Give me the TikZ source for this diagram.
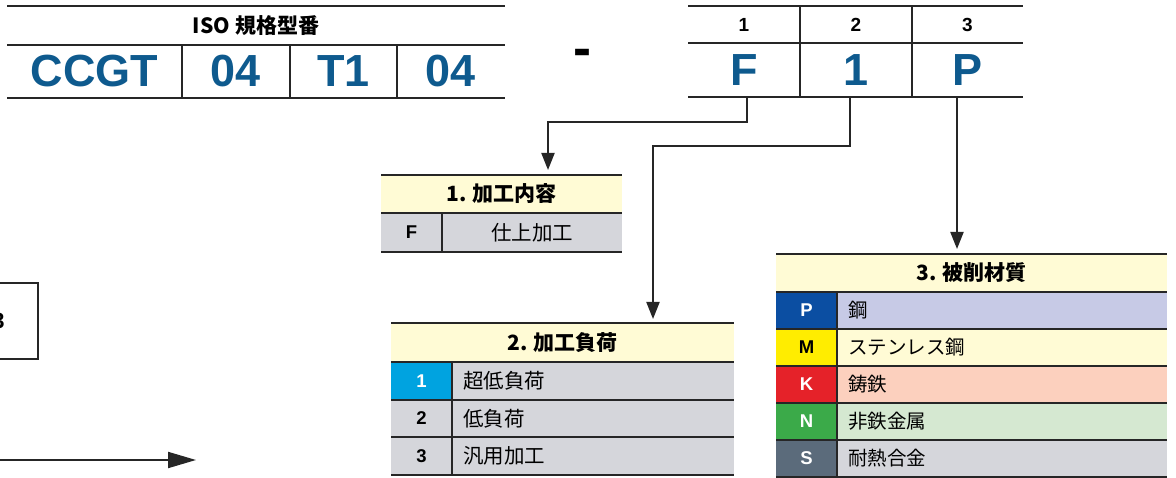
\documentclass[tikz,border=0pt]{standalone}
\usepackage{fontspec}
\setmainfont{Liberation Sans}
\newfontfamily\jp{Noto Sans CJK JP}
\usetikzlibrary{arrows.meta}
\definecolor{isoblue}{HTML}{0E5A8E}
\definecolor{lgray}{HTML}{262626}
\definecolor{hdryel}{HTML}{FFFBD5}
\definecolor{cellgray}{HTML}{D5D6DB}
\definecolor{cyanc}{HTML}{00A3E0}
\definecolor{pblue}{HTML}{0B4EA2}
\definecolor{plav}{HTML}{C7CAE6}
\definecolor{myel}{HTML}{FFED00}
\definecolor{kred}{HTML}{E52229}
\definecolor{kbg}{HTML}{FCD0BE}
\definecolor{ngreen}{HTML}{3BAA49}
\definecolor{nbg}{HTML}{D5E8D1}
\definecolor{sslate}{HTML}{5B6B7B}
\begin{document}
\begin{tikzpicture}[x=1pt,y=-1pt,
  cell/.style={anchor=north west, inner sep=0pt, outer sep=0pt},
  tline/.style={line width=2pt, draw=lgray},
  gline/.style={line width=1.5pt, draw=lgray},
  conn/.style={line width=2pt, draw=lgray, -{Triangle[length=17pt,width=13pt]}},
  big/.style={font=\fontsize{45}{45}\selectfont\bfseries, text=isoblue},
  hnum/.style={font=\fontsize{19}{19}\selectfont\bfseries},
  thead/.style={cell, fill=hdryel, font={\jp\bfseries\fontsize{21}{21}\selectfont}},
  code/.style={cell, minimum width=61pt, font=\fontsize{18.5}{18.5}\selectfont\bfseries},
  desc/.style={cell, font={\jp\fontsize{20.5}{20.5}\selectfont}, align=left, inner xsep=11pt},
  descb/.style={desc, font={\jp\fontsize{19.5}{19.5}\selectfont}},
]
\useasboundingbox (0,0) rectangle (1176,478);

% ---- ISO table
\node[cell, minimum width=498pt, minimum height=39pt, font={\jp\bfseries\fontsize{21}{21}\selectfont}] (isoh) at (7,6) {ISO 規格型番};
\node[cell, big, minimum width=175pt, minimum height=53pt] (c1) at (7,45) {CCGT};
\node[cell, big, minimum width=108pt, minimum height=53pt] (c2) at (182,45) {04};
\node[cell, big, minimum width=107pt, minimum height=53pt] (c3) at (290,45) {T1};
\node[cell, big, minimum width=108pt, minimum height=53pt] (c4) at (397,45) {04};
\draw[tline] (isoh.north west) -- (isoh.north east);
\draw[tline] (isoh.south west) -- (isoh.south east);
\draw[tline] (c1.south west) -- (c4.south east);
\draw[tline] (c1.north east) -- (c1.south east);
\draw[tline] (c2.north east) -- (c2.south east);
\draw[tline] (c3.north east) -- (c3.south east);

% ---- dash
\node[anchor=base, inner sep=0pt, font=\fontsize{54}{54}\selectfont\bfseries] (dash) at (582,67) {-};

% ---- code table
\node[cell, hnum, minimum width=112pt, minimum height=37pt] (h1) at (688,6) {1};
\node[cell, hnum, minimum width=112pt, minimum height=37pt] (h2) at (800,6) {2};
\node[cell, hnum, minimum width=111pt, minimum height=37pt] (h3) at (912,6) {3};
\node[cell, big, minimum width=112pt, minimum height=54pt] (v1) at (688,43) {F};
\node[cell, big, minimum width=112pt, minimum height=54pt] (v2) at (800,43) {1};
\node[cell, big, minimum width=111pt, minimum height=54pt] (v3) at (912,43) {P};
\draw[tline] (h1.north west) -- (h3.north east);
\draw[tline] (h1.south west) -- (h3.south east);
\draw[tline] (v1.south west) -- (v3.south east);
\draw[tline] (h1.north east) -- (v1.south east);
\draw[tline] (h2.north east) -- (v2.south east);

% ---- table 1
\node[thead, minimum width=241pt, minimum height=38pt] (t1h) at (381,175) {1. 加工内容};
\node[code, fill=cellgray, minimum height=39pt] (t1c) at (381,213) {F};
\node[cell, fill=cellgray, minimum width=180pt, minimum height=39pt, font={\jp\fontsize{20.5}{20.5}\selectfont}] (t1d) at (442,213) {仕上加工};
\draw[gline] (t1h.north west) -- (t1h.north east);
\draw[gline] (t1h.south west) -- (t1h.south east);
\draw[gline] (t1c.south west) -- (t1d.south east);
\draw[gline] (t1c.north east) -- (t1c.south east);

% ---- table 2
\node[thead, minimum width=343pt, minimum height=39pt] (t2h) at (391,323) {2. 加工負荷};
\node[code, fill=cyanc, text=white, minimum height=38pt] (t2c1) at (391,362) {1};
\node[desc, fill=cellgray, text width=260pt, minimum height=38pt] (t2d1) at (452,362) {超低負荷};
\node[code, fill=cellgray, minimum height=37pt] (t2c2) at (391,400) {2};
\node[desc, fill=cellgray, text width=260pt, minimum height=37pt] (t2d2) at (452,400) {低負荷};
\node[code, fill=cellgray, minimum height=38pt] (t2c3) at (391,437) {3};
\node[desc, fill=cellgray, text width=260pt, minimum height=38pt] (t2d3) at (452,437) {汎用加工};
\draw[gline] (t2h.north west) -- (t2h.north east);
\draw[gline] (t2h.south west) -- (t2h.south east);
\draw[gline] (t2c1.south west) -- (t2d1.south east);
\draw[gline] (t2c2.south west) -- (t2d2.south east);
\draw[gline] (t2c3.south west) -- (t2d3.south east);
\draw[gline] (t2c1.north east) -- (t2c3.south east);

% ---- table 3
\node[thead, minimum width=391pt, minimum height=38pt] (t3h) at (776,254) {3. 被削材質};
\node[code, fill=pblue, text=white, minimum height=37pt] (t3c1) at (776,292) {P};
\node[descb, fill=plav, text width=308pt, minimum height=37pt] (t3d1) at (837,292) {鋼};
\node[code, fill=myel, minimum height=37pt] (t3c2) at (776,329) {M};
\node[descb, fill=hdryel, text width=308pt, minimum height=37pt] (t3d2) at (837,329) {ステンレス鋼};
\node[code, fill=kred, text=white, minimum height=37pt] (t3c3) at (776,366) {K};
\node[descb, fill=kbg, text width=308pt, minimum height=37pt] (t3d3) at (837,366) {鋳鉄};
\node[code, fill=ngreen, text=white, minimum height=37pt] (t3c4) at (776,403) {N};
\node[descb, fill=nbg, text width=308pt, minimum height=37pt] (t3d4) at (837,403) {非鉄金属};
\node[code, fill=sslate, text=white, minimum height=37pt] (t3c5) at (776,440) {S};
\node[descb, fill=cellgray, text width=308pt, minimum height=37pt] (t3d5) at (837,440) {耐熱合金};
\draw[gline] (t3h.north west) -- (t3h.north east);
\draw[gline] (t3h.south west) -- (t3h.south east);
\draw[gline] (t3c1.south west) -- (t3d1.south east);
\draw[gline] (t3c2.south west) -- (t3d2.south east);
\draw[gline] (t3c3.south west) -- (t3d3.south east);
\draw[gline] (t3c4.south west) -- (t3d4.south east);
\draw[gline] (t3c5.south west) -- (t3d5.south east);
\draw[gline] (t3c1.north east) -- (t3c5.south east);

% ---- connectors
\draw[conn, shorten >=5pt] ([xshift=3pt]v1.south) -- ++(0,25) -| ([xshift=46.5pt]t1h.north);
\draw[conn, shorten >=4pt] ([xshift=-6pt]v2.south) -- ++(0,49) -| ([xshift=90.5pt]t2h.north);
\draw[conn, shorten >=5pt] ([xshift=-10.5pt]v3.south) -- ([xshift=-14.5pt]t3h.north);

% ---- left partial box and arrow
\node[cell, draw=lgray, line width=2pt, minimum width=79pt, minimum height=76pt, font=\fontsize{22}{22}\selectfont\bfseries] (lbox) at (-41,283) {3};
\coordinate (bs) at (-5,460);
\coordinate (be) at (196,460);
\draw[line width=2pt, draw=lgray, -{Triangle[length=28pt,width=16pt]}] (bs) -- (be);
\end{tikzpicture}
\end{document}
